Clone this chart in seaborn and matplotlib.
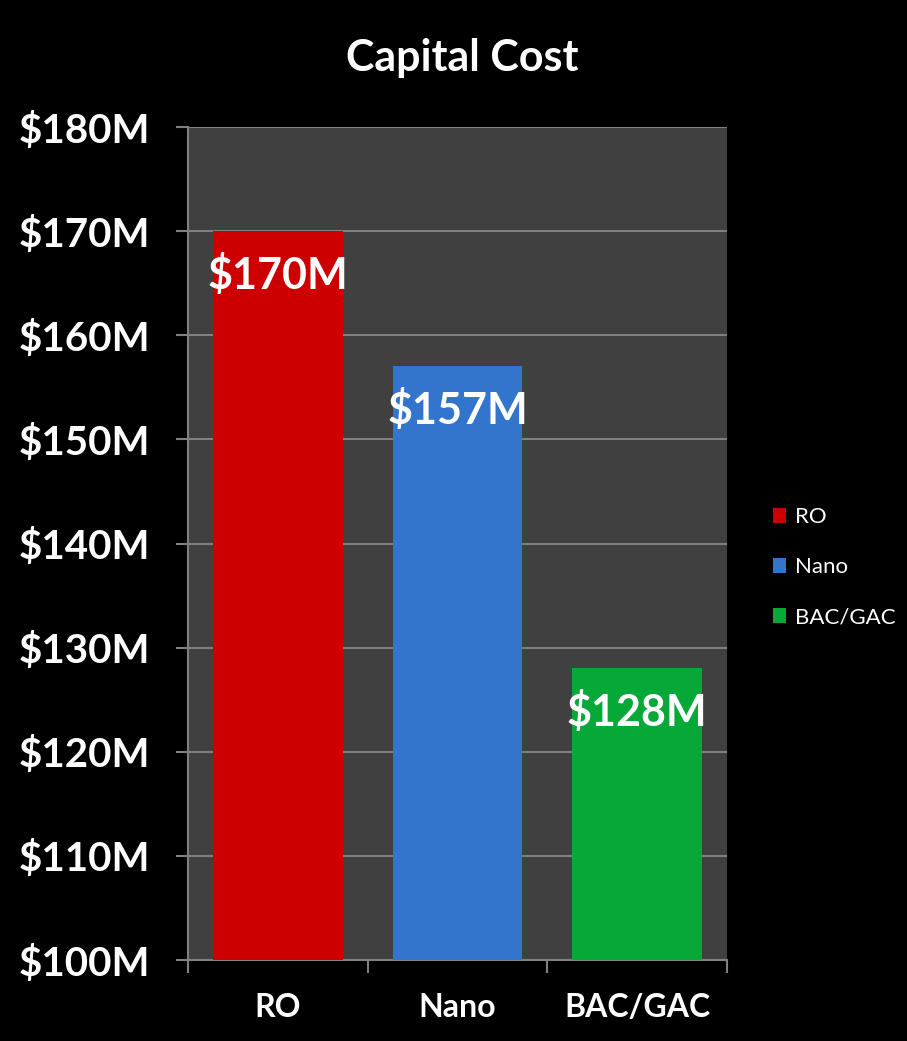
import matplotlib
matplotlib.use("Agg")
import matplotlib.pyplot as plt
import seaborn as sns
import pandas as pd
from matplotlib.patches import Patch

categories = ["RO", "Nano", "BAC/GAC"]
values = [170, 157, 128]
bar_labels = ["$170M", "$157M", "$128M"]
yticks = [100, 110, 120, 130, 140, 150, 160, 170, 180]
ytick_labels = ["$100M", "$110M", "$120M", "$130M", "$140M", "$150M", "$160M", "$170M", "$180M"]
colors = ["#CC0000", "#3375CC", "#06A838"]

df = pd.DataFrame({"cat": categories, "val": values})

sns.set_style("dark")
plt.rcParams['font.family'] = ['Lato', 'DejaVu Sans']

fig = plt.figure(figsize=(9.07, 10.41), dpi=100, facecolor="black")
ax = fig.add_axes([0.2073, 0.0778, 0.5942, 0.8002])
ax.set_facecolor("#404040")

sns.barplot(data=df, x="cat", y="val", hue="cat", palette=colors, width=0.72,
            ax=ax, legend=False, saturation=1, edgecolor="none", zorder=3)

ax.set_ylim(100, 180)
ax.set_xlim(-0.5, 2.5)
ax.set_yticks(yticks)
ax.set_yticklabels(ytick_labels)
ax.yaxis.grid(True, color="#808080", linewidth=1.5, zorder=0)
ax.xaxis.grid(False)
ax.set_axisbelow(True)

for s in ["top", "right"]:
    ax.spines[s].set_visible(False)
for s in ["left", "bottom"]:
    ax.spines[s].set_visible(True)
    ax.spines[s].set_color("#808080")
    ax.spines[s].set_linewidth(1.5)

ax.tick_params(axis="y", colors="white", labelsize=29, length=9, width=1.5, color="#808080", pad=18, left=True)
ax.tick_params(axis="x", colors="white", labelsize=23, length=0, pad=24, bottom=False)
for lbl in ax.get_yticklabels():
    lbl.set_fontweight("bold")
for lbl in ax.get_xticklabels():
    lbl.set_fontweight("bold")

# minor ticks at category boundaries on x axis
ax.set_xticks([-0.5, 0.5, 1.5, 2.5], minor=True)
ax.tick_params(axis="x", which="minor", length=9, width=1.5, color="#808080", bottom=True)

ax.set_xlabel("")
ax.set_ylabel("")

for i, (v, t) in enumerate(zip(values, bar_labels)):
    ax.text(i, v - 4.2, t, ha="center", va="center", color="white",
            fontsize=31, fontweight="bold", zorder=5)

fig.text(0.51, 0.944, "Capital Cost", ha="center", va="center", color="white",
         fontsize=31, fontweight="bold")

handles = [Patch(facecolor=c, edgecolor="none") for c in colors]
leg = fig.legend(handles, categories, loc="center left", bbox_to_anchor=(0.83, 0.455),
                 frameon=False, fontsize=16, handlelength=0.6, handleheight=0.6,
                 labelspacing=1.35, handletextpad=0.4)
for t in leg.get_texts():
    t.set_color("white")

fig.savefig("out.png", dpi=100, facecolor="black")
